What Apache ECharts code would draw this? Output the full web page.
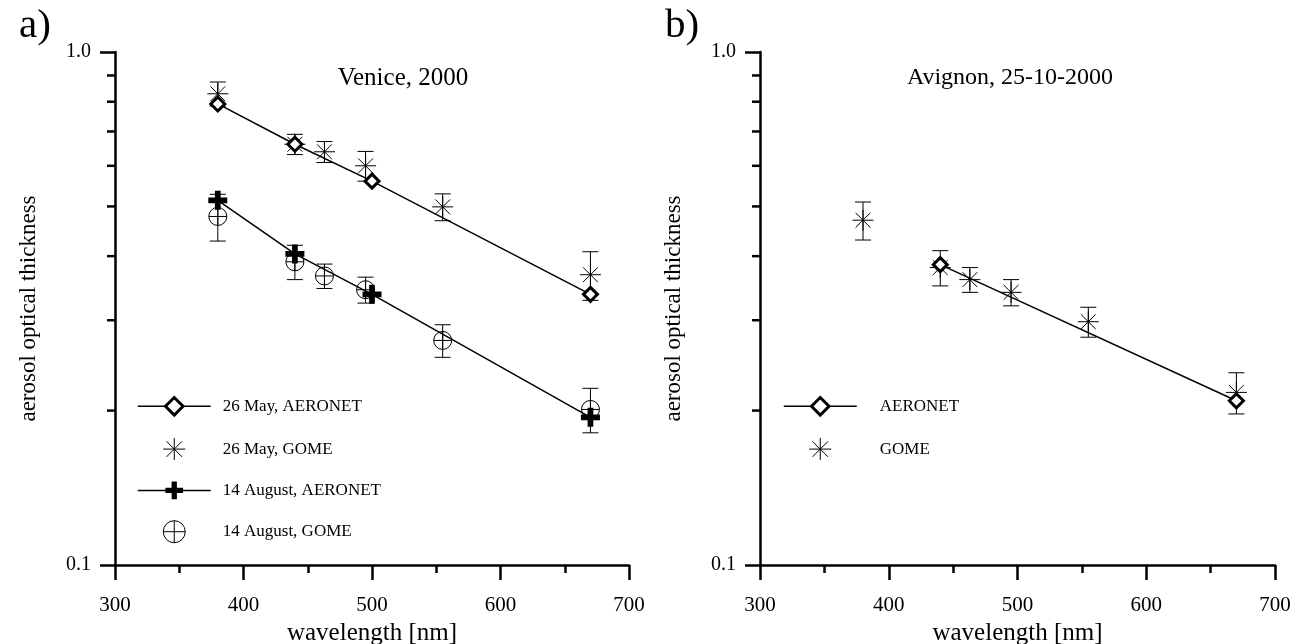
<!DOCTYPE html>
<html><head><meta charset="utf-8">
<script src="https://cdn.jsdelivr.net/npm/echarts@6/dist/echarts.min.js"></script>
<style>html,body{margin:0;padding:0;background:#fff}#c{width:1302px;height:644px}</style>
</head><body><div id="c"></div>
<script>
// ---- Panel a: Venice, 2000 ----
const veniceMayAeronetX = [380, 440, 500, 670];
const veniceMayAeronetY = [0.792, 0.661, 0.560, 0.337];
const veniceMayGomeX = [380, 440, 463, 495, 555, 670];
const veniceMayGomeY = [0.829, 0.661, 0.639, 0.600, 0.499, 0.368];
const veniceMayGomeErr = [0.045, 0.03, 0.03, 0.04, 0.03, 0.04];
const veniceAugAeronetX = [380, 440, 500, 670];
const veniceAugAeronetY = [0.514, 0.404, 0.337, 0.194];
const veniceAugGomeX = [380, 440, 463, 495, 555, 670];
const veniceAugGomeY = [0.478, 0.390, 0.366, 0.344, 0.274, 0.201];
const veniceAugGomeErr = [0.05, 0.03, 0.02, 0.02, 0.02, 0.02];
// ---- Panel b: Avignon, 25-10-2000 ----
const avignonAeronetX = [440, 670];
const avignonAeronetY = [0.385, 0.209];
const avignonGomeX = [380, 440, 463, 495, 555, 670];
const avignonGomeY = [0.470, 0.380, 0.360, 0.340, 0.298, 0.217];
const avignonGomeErr = [0.04, 0.03, 0.02, 0.02, 0.02, 0.02];
// ---- axes ----
const xMin = 300, xMax = 700, xStep = 100;
const yMin = 0.1, yMax = 1.0;
const yMinorTicks = [0.2, 0.3, 0.4, 0.5, 0.6, 0.7, 0.8, 0.9];
const legendA = ['26 May, AERONET', '26 May, GOME', '14 August, AERONET', '14 August, GOME'];
const legendB = ['AERONET', 'GOME'];

const FONT = '"Liberation Serif", "Times New Roman", serif';
const STAR = 'path://M0,-10L0,10M-10,0L10,0M-7.07,-7.07L7.07,7.07M-7.07,7.07L7.07,-7.07';
const CPLUS = 'path://M-10,0A10,10,0,1,1,10,0A10,10,0,1,1,-10,0ZM-10,0L10,0M0,-10L0,10';
const BPLUS = 'path://M-3,-10L3,-10L3,-3L10,-3L10,3L3,3L3,10L-3,10L-3,3L-10,3L-10,-3L-3,-3Z';

const zip = (xs, ys) => xs.map((x, i) => [x, ys[i]]);
const errData = (xs, ys, es) => xs.map((x, i) => [x, ys[i] - es[i], ys[i] + es[i]]);

function errRender(params, api) {
  const x = api.value(0);
  const lo = api.coord([x, api.value(1)]);
  const hi = api.coord([x, api.value(2)]);
  const hw = 8;
  const st = { stroke: '#000', lineWidth: 1 };
  return { type: 'group', children: [
    { type: 'line', shape: { x1: lo[0], y1: lo[1], x2: hi[0], y2: hi[1] }, style: st },
    { type: 'line', shape: { x1: lo[0] - hw, y1: lo[1], x2: lo[0] + hw, y2: lo[1] }, style: st },
    { type: 'line', shape: { x1: hi[0] - hw, y1: hi[1], x2: hi[0] + hw, y2: hi[1] }, style: st }
  ]};
}
function minorTickRender(params, api) {
  const p = api.coord([api.value(0), api.value(1)]);
  return { type: 'line', shape: { x1: p[0] - 8, y1: p[1], x2: p[0], y2: p[1] },
    style: { stroke: '#000', lineWidth: 2.5 } };
}

function xAxisCfg(gi) {
  return {
    type: 'value', gridIndex: gi, min: xMin, max: xMax, interval: xStep,
    axisLine: { show: true, lineStyle: { color: '#000', width: 2.5 } },
    axisTick: { show: true, inside: false, length: 15, lineStyle: { color: '#000', width: 2.5 } },
    minorTick: { show: true, splitNumber: 2, length: 8, lineStyle: { color: '#000', width: 2.5 } },
    splitLine: { show: false },
    axisLabel: { margin: 30, fontSize: 21, fontFamily: FONT, color: '#000' },
    name: 'wavelength [nm]', nameLocation: 'middle', nameGap: 55,
    nameTextStyle: { fontSize: 25, fontFamily: FONT, color: '#000' }
  };
}
function yAxisCfg(gi) {
  return {
    type: 'log', logBase: 10, gridIndex: gi, min: yMin, max: yMax,
    axisLine: { show: true, lineStyle: { color: '#000', width: 2.5 } },
    axisTick: { show: true, inside: false, length: 15, lineStyle: { color: '#000', width: 2.5 } },
    splitLine: { show: false },
    axisLabel: { margin: 24, fontSize: 20, fontFamily: FONT, color: '#000',
      formatter: v => Number(v).toFixed(1) },
    name: 'aerosol optical thickness', nameLocation: 'middle', nameGap: 75,
    nameTextStyle: { fontSize: 23, fontFamily: FONT, color: '#000' }
  };
}

function aeronet(name, gi, xs, ys, symbol, size, filled) {
  return {
    type: 'line', name, xAxisIndex: gi, yAxisIndex: gi, data: zip(xs, ys),
    symbol, symbolSize: size, z: 4,
    lineStyle: { color: '#000', width: 1.5 },
    itemStyle: filled ? { color: '#000', borderWidth: 0 } : { color: '#fff', borderColor: '#000', borderWidth: 3 }
  };
}
function gome(name, gi, xs, ys, symbol, size) {
  return {
    type: 'scatter', name, xAxisIndex: gi, yAxisIndex: gi, data: zip(xs, ys),
    symbol, symbolSize: size, symbolKeepAspect: true, z: 3,
    itemStyle: { color: 'rgba(0,0,0,0)', borderColor: '#000', borderWidth: 1, opacity: 1 }
  };
}
function errSeries(gi, xs, ys, es) {
  return { type: 'custom', xAxisIndex: gi, yAxisIndex: gi, renderItem: errRender,
    encode: { x: 0, y: [1, 2] }, data: errData(xs, ys, es), z: 2, silent: true };
}
function minorSeries(gi) {
  return { type: 'custom', xAxisIndex: gi, yAxisIndex: gi, renderItem: minorTickRender, clip: false,
    encode: { x: 0, y: 1 }, data: yMinorTicks.map(v => [xMin, v]), z: 5, silent: true };
}

function legendCfg(left, top, names, textGap) {
  return {
    left, top, orient: 'vertical', itemWidth: 73, itemHeight: 22, itemGap: 21,
    textStyle: { fontSize: 17, fontFamily: FONT, color: '#000', padding: [0, 0, 0, textGap] },
    data: names.map(n => n.indexOf('AERONET') >= 0
      ? { name: n, lineStyle: { width: 1.5, color: '#000' }, itemStyle: n.indexOf('August') >= 0 ? { borderWidth: 0 } : { borderWidth: 3, borderColor: '#000' } }
      : { name: n, itemStyle: { borderWidth: 1, borderColor: '#000' } })
  };
}

const chart = echarts.init(document.getElementById('c'), null, { renderer: 'canvas' });
chart.setOption({
  animation: false,
  backgroundColor: '#fff',
  grid: [
    { left: 115, top: 52, width: 514, height: 513, outerBoundsMode: 'none', containLabel: false },
    { left: 760, top: 52, width: 515, height: 513, outerBoundsMode: 'none', containLabel: false }
  ],
  xAxis: [xAxisCfg(0), xAxisCfg(1)],
  yAxis: [yAxisCfg(0), yAxisCfg(1)],
  legend: [legendCfg(132, 391, legendA, 7), legendCfg(778, 391, legendB, 18)],
  graphic: [
    { type: 'text', left: 19, top: 6, style: { text: 'a)', fontSize: 41, fontFamily: FONT, fill: '#000' } },
    { type: 'text', left: 665, top: 6, style: { text: 'b)', fontSize: 41, fontFamily: FONT, fill: '#000' } },
    { type: 'text', x: 403, y: 78, style: { text: 'Venice, 2000', fontSize: 25, fontFamily: FONT, fill: '#000', align: 'center', verticalAlign: 'middle' } },
    { type: 'text', x: 1010, y: 78, style: { text: 'Avignon, 25-10-2000', fontSize: 24, fontFamily: FONT, fill: '#000', align: 'center', verticalAlign: 'middle' } }
  ],
  series: [
    minorSeries(0), minorSeries(1),
    errSeries(0, veniceMayGomeX, veniceMayGomeY, veniceMayGomeErr),
    errSeries(0, veniceAugGomeX, veniceAugGomeY, veniceAugGomeErr),
    errSeries(1, avignonGomeX, avignonGomeY, avignonGomeErr),
    aeronet(legendA[0], 0, veniceMayAeronetX, veniceMayAeronetY, 'diamond', 14, false),
    gome(legendA[1], 0, veniceMayGomeX, veniceMayGomeY, STAR, 21),
    aeronet(legendA[2], 0, veniceAugAeronetX, veniceAugAeronetY, BPLUS, 19, true),
    gome(legendA[3], 0, veniceAugGomeX, veniceAugGomeY, CPLUS, 18),
    aeronet(legendB[0], 1, avignonAeronetX, avignonAeronetY, 'diamond', 14, false),
    gome(legendB[1], 1, avignonGomeX, avignonGomeY, STAR, 21)
  ]
});
</script></body></html>
